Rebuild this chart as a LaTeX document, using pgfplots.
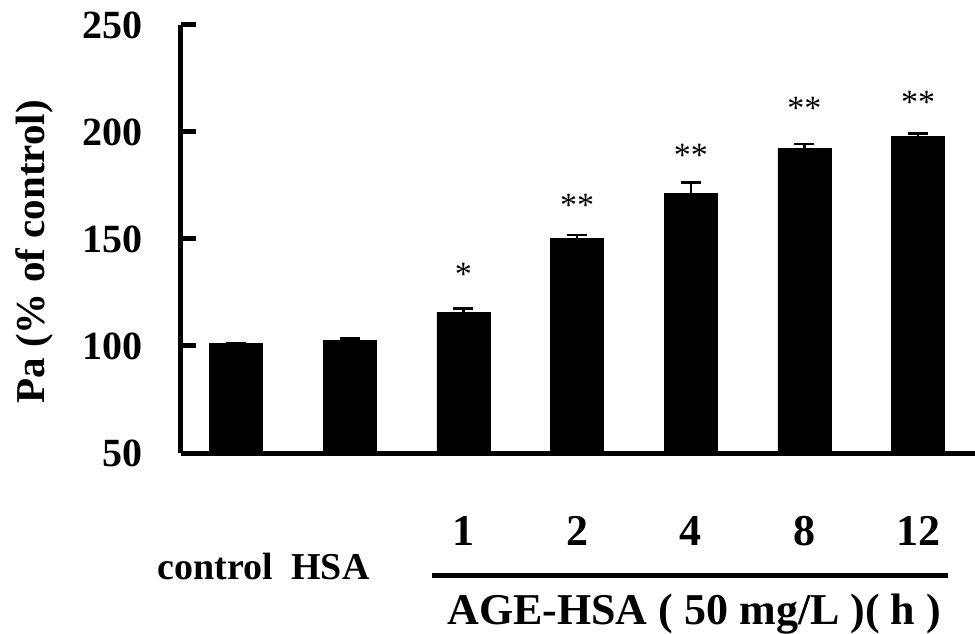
\documentclass[border=0pt]{standalone}
\usepackage{fontspec}
\setmainfont{Liberation Serif}
\usepackage{pgfplots}
\pgfplotsset{compat=1.18}

\pgfplotstableread{
x  y      err
0  101.2  0.0
1  102.8  0.7
2  115.6  1.9
3  150.3  1.6
4  171.4  5.1
5  192.4  1.9
6  198.0  1.4
}\pa

\newcommand{\lbl}{\bfseries\fontsize{38}{42}\selectfont}
\newcommand{\lblbig}{\bfseries\fontsize{44}{48}\selectfont}
\newcommand{\starfont}{\fontsize{34}{36}\selectfont}

\begin{document}
\begin{tikzpicture}
\begin{axis}[
  scale only axis,
  width=794pt, height=428pt,
  xmin=-0.484, xmax=6.5,
  ymin=50, ymax=250,
  axis lines=left,
  axis line style={-, line width=5pt},
  xtick={0,...,6},
  xticklabels={,,1,2,4,8,12},
  major x tick style={draw=none},
  xticklabel style={anchor=base, inner sep=0pt, yshift=-92pt, font=\lblbig},
  ytick={50,100,...,250},
  ytick pos=left,
  tick align=inside,
  major tick length=15pt,
  ytick style={line width=5pt, black},
  yticklabel style={font=\bfseries\fontsize{40}{44}\selectfont, xshift=-35pt},
  /pgf/number format/assume math mode=true,
  ylabel={Pa (\% of control)},
  ylabel style={at={(axis description cs:-0.184,0.47)}, anchor=center,
    font=\bfseries\fontsize{41}{44}\selectfont},
  clip=false,
]
\addplot[ybar, bar width=0.466, fill=black, draw=black,
  error bars/.cd, y dir=plus, y explicit,
  error bar style={line width=2.5pt, black}, error mark options={rotate=90, mark size=10pt, line width=2.5pt}]
  table[x=x, y=y, y error=err] {\pa};

% significance marks (glyph centre about 17pt above the baseline)
\tikzset{sig/.style={anchor=base, inner sep=0pt, yshift=-17pt, font=\starfont}}
\node[sig] at (axis cs:2,136) {*};
\node[sig] at (axis cs:3,168.6) {**};
\node[sig] at (axis cs:4,192) {**};
\node[sig] at (axis cs:5,213.9) {**};
\node[sig] at (axis cs:6,216.7) {**};

% group labels under the axis
\node[anchor=base, inner sep=0pt, font=\lbl] at ([yshift=-126pt]axis cs:-0.18,50) {control};
\node[anchor=base, inner sep=0pt, font=\lbl] at ([yshift=-126pt]axis cs:0.83,50) {HSA};
\draw[line width=5pt] ([yshift=-122pt]axis cs:1.72,50) -- ([yshift=-122pt]axis cs:6.26,50);
\node[anchor=base, inner sep=0pt, font=\lblbig] at ([yshift=-171pt]axis cs:4.03,50) {AGE-HSA ( 50 mg/L )( h )};

\coordinate (O) at (rel axis cs:0,0);
\coordinate (NE) at (rel axis cs:1,1);
\end{axis}
\pgfresetboundingbox
\path[use as bounding box] ([xshift=-181pt,yshift=-181pt]O) rectangle ([yshift=25pt]NE);
\end{tikzpicture}
\end{document}
